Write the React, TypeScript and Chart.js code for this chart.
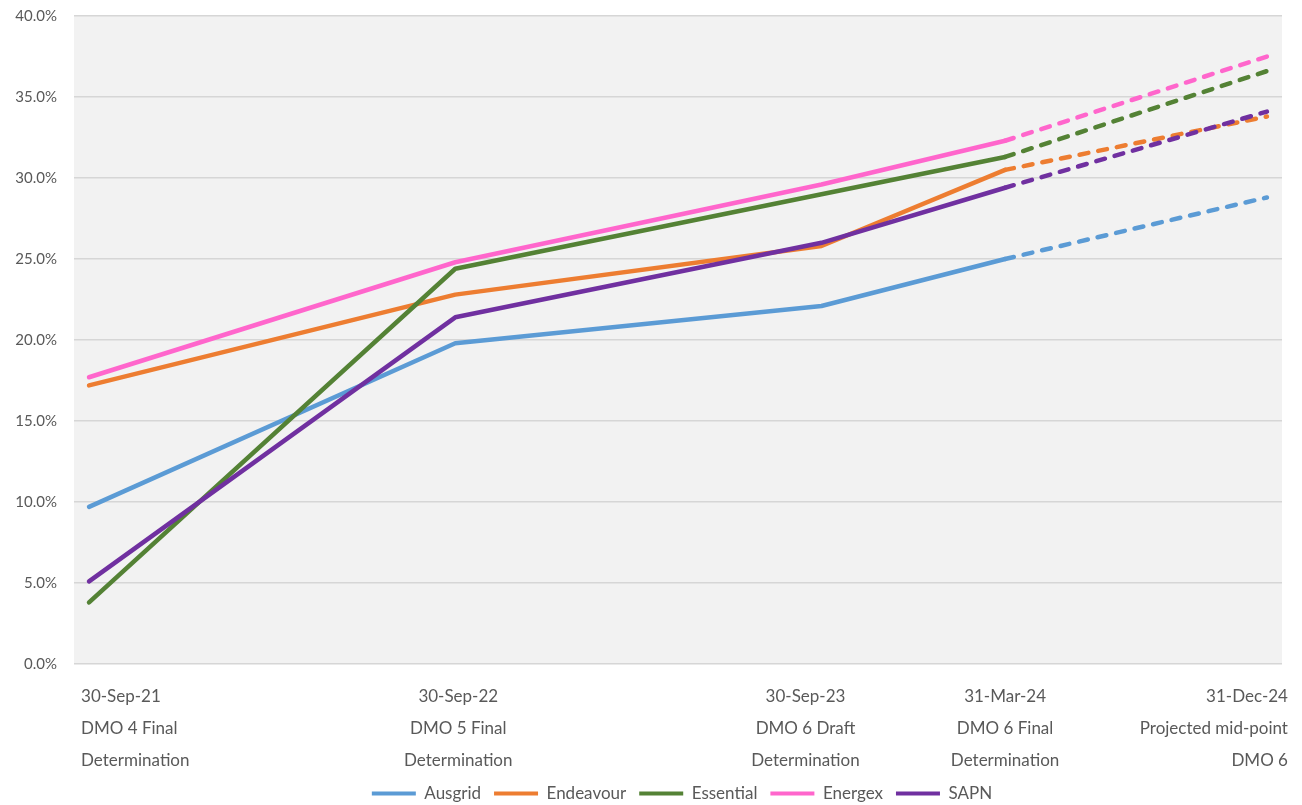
import React, { useEffect, useRef } from 'react';
import { Chart, registerables } from 'chart.js';

Chart.register(...registerables);

// x values are days after 30-Sep-21
const dayOffsets = [0, 365, 730, 913, 1174];
const tickDates = ['30-Sep-21', '30-Sep-22', '30-Sep-23', '31-Mar-24', '31-Dec-24'];
const tickLine2 = ['DMO 4 Final', 'DMO 5 Final', 'DMO 6 Draft', 'DMO 6 Final', 'Projected mid-point'];
const tickLine3 = ['Determination', 'Determination', 'Determination', 'Determination', 'DMO 6'];

const seriesNames = ['Ausgrid', 'Endeavour', 'Essential', 'Energex', 'SAPN'];
const ausgrid = [9.7, 19.8, 22.1, 25.0, 28.8];
const endeavour = [17.2, 22.8, 25.8, 30.5, 33.8];
const essential = [3.8, 24.4, 29.0, 31.3, 36.6];
const energex = [17.7, 24.8, 29.6, 32.3, 37.5];
const sapn = [5.1, 21.4, 26.0, 29.4, 34.1];

const seriesColors = ['#5B9BD5', '#ED7D31', '#548235', '#FF66CC', '#7030A0'];

const FONT = 'Lato, "Open Sans", sans-serif';
const TEXT_COLOR = '#595959';

const plotBackground = {
  id: 'plotBackground',
  afterLayout(chart: Chart) {
    // centre the legend under the plot area, not the whole canvas
    const legend: any = (chart as any).legend;
    if (legend) {
      legend.left = chart.chartArea.left + 4;
      legend.right = chart.chartArea.right + 4;
    }
  },
  beforeDraw(chart: Chart) {
    const { ctx, chartArea } = chart;
    ctx.save();
    ctx.fillStyle = '#f2f2f2';
    ctx.fillRect(chartArea.left, chartArea.top, chartArea.right - chartArea.left, chartArea.bottom - chartArea.top);
    ctx.restore();
  },
};

// three-line category labels under the date axis
const xLabels = {
  id: 'xLabels',
  afterDraw(chart: Chart) {
    const { ctx, chartArea } = chart;
    const x = chart.scales.x;
    const nudge = [-8, 3, -16, 0, 21]; // the source nudges some labels off their points
    ctx.save();
    ctx.font = `17px ${FONT}`;
    ctx.fillStyle = TEXT_COLOR;
    ctx.textBaseline = 'middle';
    dayOffsets.forEach((d, i) => {
      const tx = x.getPixelForValue(d) + nudge[i];
      let align: CanvasTextAlign = 'center';
      if (i === 0) align = 'left';
      else if (i === dayOffsets.length - 1) align = 'right';
      ctx.textAlign = align;
      [tickDates[i], tickLine2[i], tickLine3[i]].forEach((t, j) => {
        ctx.fillText(t, tx, chartArea.bottom + 33 + j * 32);
      });
    });
    ctx.restore();
  },
};

export default function App() {
  const canvasRef = useRef<HTMLCanvasElement>(null);
  const chartRef = useRef<Chart | null>(null);

  useEffect(() => {
    if (!canvasRef.current) return;
    if (chartRef.current) chartRef.current.destroy();

    const allValues = [ausgrid, endeavour, essential, energex, sapn];
    const datasets = allValues.map((vals, i) => ({
      label: seriesNames[i],
      data: vals.map((v, j) => ({ x: dayOffsets[j], y: v })),
      borderColor: seriesColors[i],
      backgroundColor: seriesColors[i],
      borderWidth: 4.5,
      borderCapStyle: 'round' as const,
      borderJoinStyle: 'round' as const,
      pointRadius: 0,
      tension: 0,
      order: allValues.length - i,
      segment: {
        borderDash: (ctx: any) => (ctx.p0DataIndex >= 3 ? [9, 10] : undefined),
      },
    }));

    chartRef.current = new Chart(canvasRef.current, {
      type: 'line',
      data: { datasets },
      options: {
        animation: false,
        responsive: true,
        maintainAspectRatio: false,
        layout: { padding: { left: 0, right: 20, top: 16, bottom: -7 } },
        plugins: {
          tooltip: { enabled: false },
          legend: {
            position: 'bottom',
            labels: {
              boxWidth: 44,
              boxHeight: 4,
              padding: 13,
              color: TEXT_COLOR,
              font: { family: FONT, size: 17 },
              sort: (a, b) => (a.datasetIndex ?? 0) - (b.datasetIndex ?? 0),
              generateLabels: (chart) =>
                Chart.defaults.plugins.legend.labels.generateLabels(chart).map((l) => ({
                  ...l,
                  fillStyle: l.strokeStyle,
                  lineWidth: 0,
                })),
            },
          },
        },
        scales: {
          x: {
            type: 'linear',
            min: -15,
            max: 1189,
            grid: { display: false },
            border: { display: false },
            ticks: { display: false },
            afterFit: (scale) => {
              scale.height = 108;
            },
          },
          y: {
            min: 0,
            max: 40,
            grid: { color: '#d6d6d6', lineWidth: 1.5, drawTicks: false },
            border: { display: false },
            ticks: {
              stepSize: 5,
              padding: 17,
              color: TEXT_COLOR,
              font: { family: FONT, size: 15 },
              callback: (v) => Number(v).toFixed(1) + '%',
            },
            afterFit: (scale: any) => {
              scale.width = 74;
              scale.paddingTop = 0;
              scale.paddingBottom = 0;
            },
          },
        },
      },
      plugins: [plotBackground, xLabels],
    });

    return () => {
      if (chartRef.current) {
        chartRef.current.destroy();
        chartRef.current = null;
      }
    };
  }, []);

  return (
    <div style={{ position: 'fixed', left: 0, top: 0, width: 1302, height: 805, background: '#fff' }}>
      <canvas ref={canvasRef}></canvas>
    </div>
  );
}
